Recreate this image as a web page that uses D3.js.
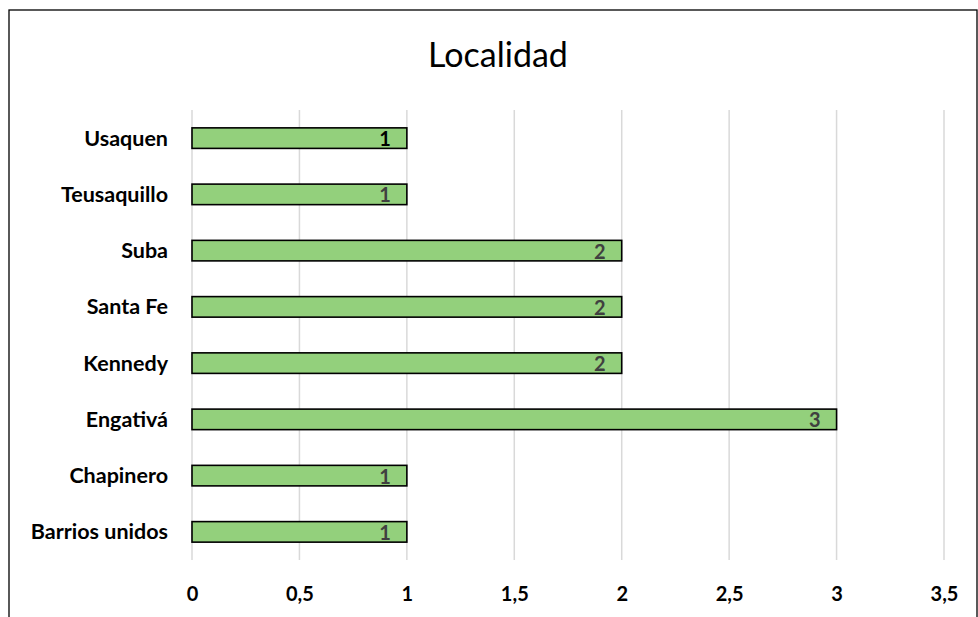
<!DOCTYPE html>
<html>
<head>
<meta charset="utf-8">
<script src="https://cdn.jsdelivr.net/npm/d3@7"></script>
<style>
  html, body { margin: 0; padding: 0; background: #fff; }
  svg { display: block; }
</style>
</head>
<body>
<div id="chart"></div>
<script>
const categories = ["Usaquen", "Teusaquillo", "Suba", "Santa Fe", "Kennedy", "Engativá", "Chapinero", "Barrios unidos"];
const values = [1, 1, 2, 2, 2, 3, 1, 1];
const tickValues = [0, 0.5, 1, 1.5, 2, 2.5, 3, 3.5];
const tickLabels = ["0", "0,5", "1", "1,5", "2", "2,5", "3", "3,5"];
const title = "Localidad";

const W = 978, H = 617;
const margin = { left: 192, right: 34, top: 110, bottom: 57 };
const font = "Lato, 'Open Sans', sans-serif";

const svg = d3.select("#chart").append("svg").attr("width", W).attr("height", H);

svg.append("rect").attr("x", 0).attr("y", 0).attr("width", W).attr("height", H).attr("fill", "#fff");
svg.append("rect").attr("x", 9).attr("y", 10).attr("width", 968).attr("height", 640)
  .attr("fill", "none").attr("stroke", "#000").attr("stroke-width", 1.3);

const x = d3.scaleLinear().domain([0, 3.5]).range([margin.left, W - margin.right]);
const y = d3.scaleBand().domain(categories).range([margin.top, H - margin.bottom]).paddingInner(0.635).paddingOuter(0.3175);

// gridlines
svg.append("g").selectAll("line").data(tickValues).join("line")
  .attr("x1", d => x(d)).attr("x2", d => x(d))
  .attr("y1", margin.top).attr("y2", H - margin.bottom)
  .attr("stroke", "#d9d9d9").attr("stroke-width", 1.5);

// x axis tick labels
const xAxis = d3.axisBottom(x).tickValues(tickValues).tickFormat((d, i) => tickLabels[i]).tickSize(0).tickPadding(0);
const gx = svg.append("g").attr("transform", `translate(0, ${H - margin.bottom})`).call(xAxis);
gx.select(".domain").remove();
gx.selectAll("text").attr("dy", null).attr("y", 41)
  .attr("font-family", font).attr("font-weight", "bold").attr("font-size", 20).attr("fill", "#000");

// y axis category labels
const yAxis = d3.axisLeft(y).tickSize(0).tickPadding(0);
const gy = svg.append("g").attr("transform", `translate(${margin.left}, 0)`).call(yAxis);
gy.select(".domain").remove();
gy.selectAll("text").attr("x", -24).attr("dy", "0.35em")
  .attr("font-family", font).attr("font-weight", "bold").attr("font-size", 21.5).attr("fill", "#000");

// bars
svg.append("g").selectAll("rect").data(categories).join("rect")
  .attr("x", x(0))
  .attr("y", d => y(d))
  .attr("width", (d, i) => x(values[i]) - x(0))
  .attr("height", y.bandwidth())
  .attr("fill", "#93d07c")
  .attr("stroke", "#000").attr("stroke-width", 1.6);

// data labels
svg.append("g").selectAll("text").data(categories).join("text")
  .attr("x", (d, i) => x(values[i]) - 16)
  .attr("y", d => y(d) + y.bandwidth() / 2)
  .attr("dy", "0.4em")
  .attr("text-anchor", "end")
  .attr("font-family", font).attr("font-weight", "bold").attr("font-size", 20)
  .attr("fill", (d, i) => i === 0 ? "#000" : "#404040")
  .text((d, i) => values[i]);

// title
svg.append("text").attr("x", 498).attr("y", 67).attr("text-anchor", "middle")
  .attr("font-family", font).attr("font-size", 34).attr("fill", "#000").text(title);
</script>
</body>
</html>
